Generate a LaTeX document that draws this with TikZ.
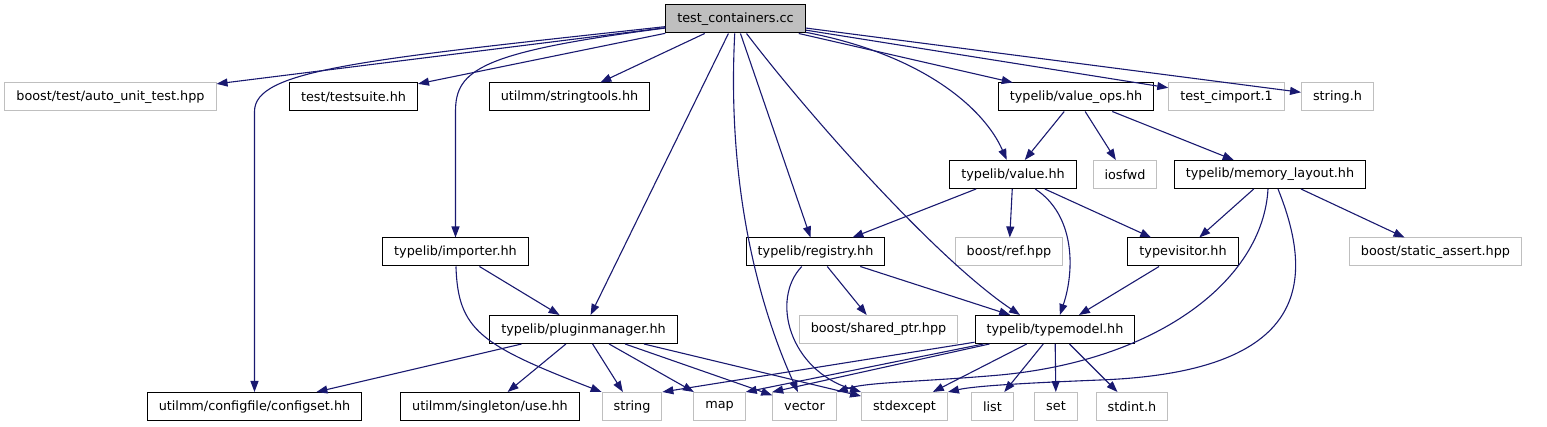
\documentclass[tikz,border=0pt]{standalone}
\usepackage{fontspec}
\setmainfont{DejaVu Sans}
\usetikzlibrary{arrows.meta}

\definecolor{edgeblue}{HTML}{191970}
\definecolor{boxgray}{HTML}{BFBFBF}

\tikzstyle{header} = [rectangle, minimum height=28pt, inner xsep=11.5pt, inner ysep=0pt, text centered, draw=black, fill=white, line width=1pt, font=\fontsize{12.8}{15}\selectfont]
\tikzstyle{extern} = [header, draw=boxgray]
\tikzstyle{root} = [header, fill=boxgray]
\tikzstyle{dep} = [line width=1.1pt, draw=edgeblue, -{Triangle[length=11pt,width=8pt]}]

\begin{document}
\begin{tikzpicture}[x=1pt, y=-1pt]
\useasboundingbox (0,0) rectangle (1547,427);

\node (containers) [root] at (735.5,19) {test\_containers.cc};

\node (autotest) [extern] at (110.5,97) {boost/test/auto\_unit\_test.hpp};
\node (testsuite) [header] at (353.5,97) {test/testsuite.hh};
\node (stringtools) [header] at (569.5,97) {utilmm/stringtools.hh};
\node (valueops) [header] at (1076,97) {typelib/value\_ops.hh};
\node (cimport) [extern] at (1226.5,97) {test\_cimport.1};
\node (stringh) [extern] at (1337.5,97) {string.h};

\node (value) [header] at (1013,174.5) {typelib/value.hh};
\node (iosfwd) [extern] at (1125,174.5) {iosfwd};
\node (memlayout) [header] at (1270,174.5) {typelib/memory\_layout.hh};

\node (importer) [header] at (455.5,252) {typelib/importer.hh};
\node (registry) [header] at (815.5,252) {typelib/registry.hh};
\node (ref) [extern] at (1009,252) {boost/ref.hpp};
\node (typevisitor) [header] at (1183,252) {typevisitor.hh};
\node (staticassert) [extern] at (1435.5,252) {boost/static\_assert.hpp};

\node (pluginmanager) [header] at (583.5,329.5) {typelib/pluginmanager.hh};
\node (sharedptr) [extern] at (878.5,329.5) {boost/shared\_ptr.hpp};
\node (typemodel) [header] at (1055,329.5) {typelib/typemodel.hh};

\node (configset) [header] at (254.5,406.5) {utilmm/configfile/configset.hh};
\node (use) [header] at (490,406.5) {utilmm/singleton/use.hh};
\node (string) [extern] at (632,406.5) {string};
\node (map) [extern] at (719.5,406.5) {map};
\node (vector) [extern] at (804.5,406.5) {vector};
\node (stdexcept) [extern] at (904.5,406.5) {stdexcept};
\node (list) [extern] at (992.5,406.5) {list};
\node (set) [extern] at (1056,406.5) {set};
\node (stdint) [extern] at (1132,406.5) {stdint.h};

% includes of the test file
\draw [dep] (containers) -- (autotest);
\draw [dep] (containers) .. controls (360,60) and (254.5,70) .. (configset.north |- autotest.south) -- (configset);
\draw [dep] (containers) -- (testsuite);
\draw [dep] (containers) .. controls (480,52) and (455.5,70) .. (importer.north |- stringtools.south) -- (importer);
\draw [dep] (containers) -- (stringtools);
\draw [dep] (containers) -- (pluginmanager);
\draw [dep] (containers) .. controls (726,200) and (765,320) .. (vector);
\draw [dep] (containers) -- (registry);
\draw [dep] (containers) .. controls (807,113) and (935,258) .. ([xshift=-35]typemodel.north);
\draw [dep] (containers) .. controls (925,55) and (985,110) .. (value);
\draw [dep] (containers) -- (valueops);
\draw [dep] (containers) -- (cimport);
\draw [dep] (containers) -- (stringh);

\draw [dep] (valueops) -- (value);
\draw [dep] (valueops) -- (iosfwd);
\draw [dep] (valueops) -- (memlayout);

\draw [dep] (value) -- (registry);
\draw [dep] (value) -- (ref);
\draw [dep] (value) .. controls (1075,215) and (1075,270) .. (typemodel);
\draw [dep] (value) -- (typevisitor);

\draw [dep] (memlayout) -- (typevisitor);
\draw [dep] ([xshift=-2]memlayout.south) .. controls +(-5,90) and +(160,-15) .. (1000,375) .. controls +(-80,7) and +(30,-10) .. (vector.north east);
\draw [dep] ([xshift=8]memlayout.south) .. controls +(37,92) and +(210,-8) .. (1100,380) .. controls +(-100,4) and +(22,-5) .. (stdexcept.north east);
\draw [dep] (memlayout) -- (staticassert);

\draw [dep] (importer) -- (pluginmanager);
\draw [dep] (importer) .. controls (458,330) and (480,345) .. (string.north west);

\draw [dep] (registry) .. controls (770,300) and (790,370) .. (stdexcept.north west);
\draw [dep] (registry) -- (sharedptr);
\draw [dep] (registry) -- (typemodel);

\draw [dep] (typevisitor) -- (typemodel);

\draw [dep] (pluginmanager) -- (configset);
\draw [dep] (pluginmanager) -- (use);
\draw [dep] (pluginmanager) -- (string);
\draw [dep] (pluginmanager) -- (map);
\draw [dep] (pluginmanager) -- (vector);
\draw [dep] (pluginmanager) -- (stdexcept);

\draw [dep] (typemodel) -- (string.north east);
\draw [dep] (typemodel) -- (map.north east);
\draw [dep] (typemodel) -- (vector.north west);
\draw [dep] (typemodel) -- (stdexcept);
\draw [dep] (typemodel) -- (list);
\draw [dep] (typemodel) -- (set);
\draw [dep] (typemodel) -- (stdint);
\end{tikzpicture}
\end{document}
